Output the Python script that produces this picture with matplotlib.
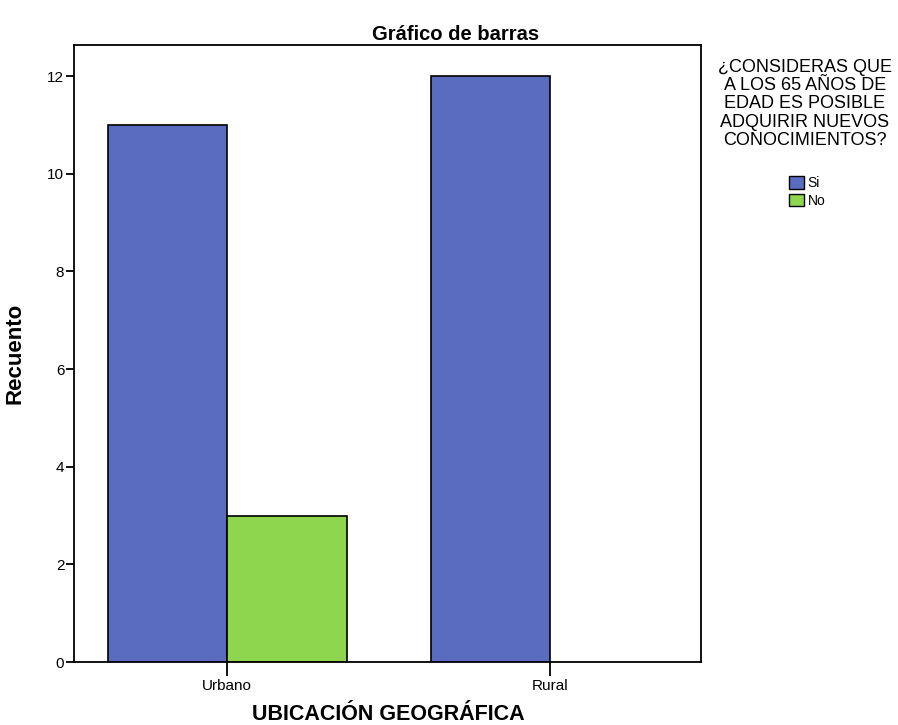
import matplotlib.pyplot as plt
import numpy as np
from matplotlib.patches import Patch

plt.rcParams["font.family"] = ["Liberation Sans", "DejaVu Sans"]

categories = ["Urbano", "Rural"]
series_names = ["Si", "No"]
si_counts = [11, 12]
no_counts = [3, 0]
y_ticks = [0, 2, 4, 6, 8, 10, 12]

LEGEND_TITLE = ("¿CONSIDERAS QUE\nA LOS 65 AÑOS DE\nEDAD ES POSIBLE\n"
                "ADQUIRIR NUEVOS\nCONOCIMIENTOS?")

BLUE = "#5a6cc0"
GREEN = "#8dd64e"
BAR_W = 0.37
W, H = 898, 725

fig = plt.figure(figsize=(W / 100, H / 100), dpi=100)
ax = fig.add_axes([74 / W, 1 - 662 / H, 627 / W, 617 / H])

x = np.arange(len(categories))
ax.bar(x - BAR_W, si_counts, width=BAR_W, align="edge",
       color=BLUE, edgecolor="black", linewidth=1.2)
no_vals = np.array(no_counts)
mask = no_vals > 0
ax.bar(x[mask], no_vals[mask], width=BAR_W, align="edge",
       color=GREEN, edgecolor="black", linewidth=1.2)

ax.set_xlim(-0.474, 1.467)
ax.set_ylim(0, 12.64)
ax.set_xticks(x)
ax.set_xticklabels(categories, fontsize=11)
ax.set_yticks(y_ticks)
ax.set_yticklabels([str(t) for t in y_ticks], fontsize=11)
ax.tick_params(axis="x", length=10, width=1.3, pad=2)
ax.tick_params(axis="y", length=6, width=1.3, pad=1)
for s in ax.spines.values():
    s.set_linewidth(1.3)

ax.set_ylabel("Recuento", fontsize=16, fontweight="bold", labelpad=16)
fig.text(388 / W, 1 - 720 / H, "UBICACIÓN GEOGRÁFICA", fontsize=15.5,
         fontweight="bold", ha="center", va="baseline")
fig.text(456 / W, 1 - 35 / H, "Gráfico de barras", fontsize=14.5,
         fontweight="bold", ha="center", va="center")

# legend title drawn separately, entries sit lower as in the reference
fig.text(805 / W, 1 - 104 / H, LEGEND_TITLE, fontsize=13, ha="center",
         va="center", multialignment="center", linespacing=1.1)

handles = [Patch(facecolor=BLUE, edgecolor="black", label=series_names[0]),
           Patch(facecolor=GREEN, edgecolor="black", label=series_names[1])]
fig.legend(handles=handles, loc="upper left",
           bbox_to_anchor=(782 / W, 1 - 169 / H),
           frameon=False, fontsize=10, borderpad=0,
           handlelength=1.05, handleheight=1.05, handletextpad=0.3,
           labelspacing=0.25)

fig.savefig("out.png", dpi=100)
